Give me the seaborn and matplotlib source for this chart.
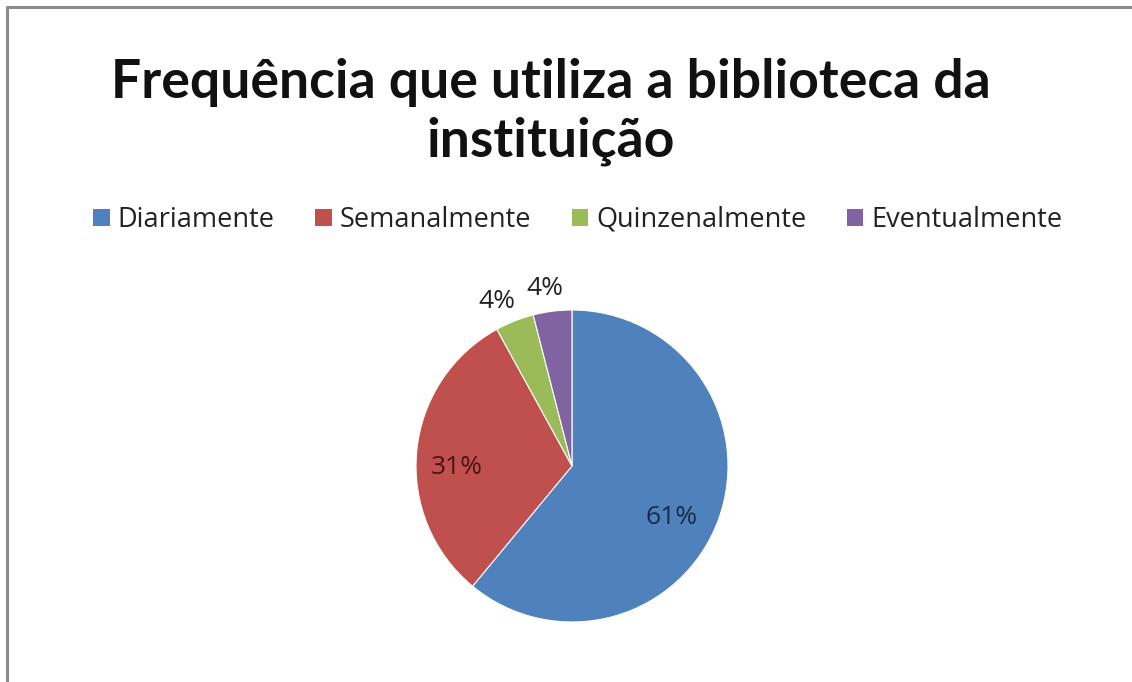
import matplotlib
matplotlib.use("Agg")
import matplotlib.pyplot as plt
from matplotlib.patches import Patch
from matplotlib.lines import Line2D
import numpy as np
import seaborn as sns

# Data
categories = ["Diariamente", "Semanalmente", "Quinzenalmente", "Eventualmente"]
shares = [61, 31, 4, 4]
pct_labels = ["61%", "31%", "4%", "4%"]
title_lines = ["Frequência que utiliza a biblioteca da", "instituição"]

colors = ["#4F81BD", "#C0504D", "#9BBB59", "#8064A2"]
label_colors = ["#1b2b45", "#4a1414", "#222222", "#222222"]
# radial distance and angular nudge (deg) of each percentage label
label_dist = [0.72, 0.74, 1.16, 1.15]
label_nudge = [-7.7, 5.9, 3.1, 1.5]

sns.set_theme(style="white")
plt.rcParams["font.family"] = ["Open Sans", "DejaVu Sans"]

W, H = 1132, 682
fig = plt.figure(figsize=(W / 100, H / 100), dpi=100)
fig.patch.set_facecolor("white")

# Pie axes: centre (572, 466) px, radius 156 px
cx, cy, r = 572, 466, 156
ax = fig.add_axes([(cx - r) / W, (H - cy - r) / H, 2 * r / W, 2 * r / H])
wedges, _ = ax.pie(shares, colors=colors, startangle=90, counterclock=False,
                   radius=1.0, wedgeprops=dict(edgecolor="white", linewidth=0.8))
ax.set_xlim(-1, 1)
ax.set_ylim(-1, 1)
ax.set_aspect("equal")
ax.axis("off")

for w, lab, d, dn, c in zip(wedges, pct_labels, label_dist, label_nudge, label_colors):
    mid = np.deg2rad((w.theta1 + w.theta2) / 2 + dn)
    ax.text(d * np.cos(mid), d * np.sin(mid), lab, ha="center", va="center",
            fontsize=19, color=c, clip_on=False)

# Title
for line, base in zip(title_lines, [98, 157]):
    fig.text(551 / W, 1 - base / H, line, ha="center", va="baseline",
             fontsize=38.5, fontweight="bold", color="#111111", family=["Lato", "DejaVu Sans"])

# Legend
handles = [Patch(facecolor=c, edgecolor="none") for c in colors]
fig.legend(handles, categories, loc="center", bbox_to_anchor=(578 / W, 1 - 220 / H),
           ncol=4, frameon=False, fontsize=19.5, handlelength=0.6, handleheight=0.6,
           handletextpad=0.3, columnspacing=1.5, labelcolor="#222222")

# Frame lines at left and top edge
fig.add_artist(Line2D([6.5 / W, 6.5 / W], [0, 1 - 6.5 / H], transform=fig.transFigure,
                      color="#8c8c8c", linewidth=2.2))
fig.add_artist(Line2D([6.5 / W, 1], [1 - 6.5 / H, 1 - 6.5 / H], transform=fig.transFigure,
                      color="#8c8c8c", linewidth=2.2))

fig.savefig("out.png", dpi=100, facecolor="white")
